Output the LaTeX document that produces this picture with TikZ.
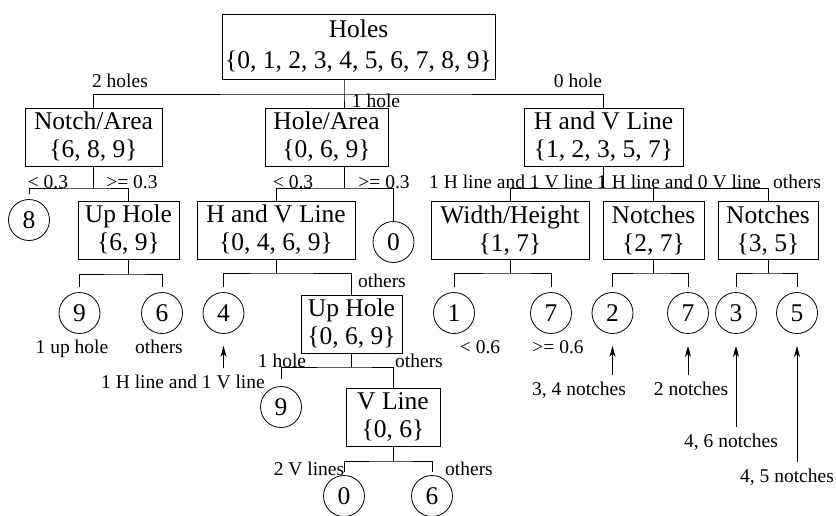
\documentclass[tikz,border=0pt]{standalone}
\usepackage{fontspec}
\setmainfont{Liberation Serif}
\usetikzlibrary{arrows.meta}

\begin{document}
\begin{tikzpicture}[x=1pt,y=-1pt,>={Stealth[length=11pt,width=6pt,inset=3pt]},line width=0.8pt,
  attr/.style={draw,rectangle,align=center,font=\fontsize{25.5}{28}\selectfont,inner xsep=1pt,inner ysep=2pt,minimum height=58pt,minimum width=#1},
  leaf/.style={draw,circle,minimum size=41pt,inner sep=0pt,font=\fontsize{25.5}{28}\selectfont},
  lab/.style={font=\fontsize{19.5}{22}\selectfont,inner sep=1pt,anchor=base},
  pointer/.style={->,shorten <=5pt,shorten >=12pt}
]
  \useasboundingbox (0,0) rectangle (836,515);

  % decision boxes
  \node[attr=273pt,minimum height=65pt,inner xsep=0pt] (root) at (358.5,46.5)
    {Holes\\[3pt]\{0, 1, 2, 3, 4, 5, 6, 7, 8, 9\}};
  \node[attr=137pt] (notch) at (93.5,137) {Notch/Area\\\{6, 8, 9\}};
  \node[attr=123pt] (hole) at (326.5,137) {Hole/Area\\\{0, 6, 9\}};
  \node[attr=159pt] (hv) at (603.5,137) {H and V Line\\\{1, 2, 3, 5, 7\}};
  \node[attr=101pt] (uph1) at (128.5,230) {Up Hole\\\{6, 9\}};
  \node[attr=158pt] (hv2) at (276,230) {H and V Line\\\{0, 4, 6, 9\}};
  \node[attr=158pt] (wh) at (510,230.5) {Width/Height\\\{1, 7\}};
  \node[attr=101pt] (n27) at (653.5,230.5) {Notches\\\{2, 7\}};
  \node[attr=100pt] (n35) at (768,230.5) {Notches\\\{3, 5\}};
  \node[attr=101pt] (uph2) at (351.5,324) {Up Hole\\\{0, 6, 9\}};
  \node[attr=94pt] (vline) at (393,417) {V Line\\\{0, 6\}};

  % leaves
  \foreach \n/\x/\y/\d in {c8/29/220/8,c0a/393.5/242/0,c9a/79.5/313/9,c6a/162/313/6,
      c4/223.5/313/4,c1/454/313/1,c7a/551/313/7,c2/612.5/313/2,c7b/688/313/7,
      c3/736/313/3,c5/797/313/5,c9b/281/407/9,c0b/344/496/0,c6b/432/496/6}
    \node[leaf] (\n) at (\x,\y) {\d};

  % junctions
  \coordinate (j0) at (344,94);
  \coordinate (jn) at (93.5,188);
  \coordinate (jh) at (344,188);
  \coordinate (jv) at (603.5,188);
  \coordinate (ju1) at (128.5,274);
  \coordinate (jhv2) at (276,273);
  \coordinate (jwh) at (510,273);
  \coordinate (jn27) at (653.5,273);
  \coordinate (jn35) at (768,273);
  \coordinate (ju2) at (351.5,367);
  \coordinate (jvl) at (393,461);

  \draw (root.south -| j0) -- (j0) -- (j0 |- hole.north);
  \draw (notch.north) |- (j0) -| (hv.north);
  \draw (notch.south) -- (jn);
  \draw[shorten <=5pt] (c8.north) |- (jn) -| (uph1.north);
  \draw (hole.south -| jh) -- (jh);
  \draw (hv2.north) |- (jh) -| (c0a.north);
  \draw (hv.south) -- (jv);
  \draw (wh.north) |- (jv) -| (n35.north);
  \draw (jv -| n27.north) -- (n27.north);
  \draw (uph1.south) -- (ju1);
  \draw[shorten <=5pt,shorten >=5pt] (c9a.north) |- (ju1) -| (c6a.north);
  \draw (hv2.south) -- (jhv2);
  \draw[shorten <=5pt] (c4.north) |- (jhv2) -| (uph2.north);
  \draw (wh.south) -- (jwh);
  \draw[shorten <=5pt,shorten >=5pt] (c1.north) |- (jwh) -| (c7a.north);
  \draw (n27.south) -- (jn27);
  \draw[shorten <=5pt,shorten >=5pt] (c2.north) |- (jn27) -| (c7b.north);
  \draw (n35.south) -- (jn35);
  \draw[shorten <=5pt,shorten >=5pt] (c3.north) |- (jn35) -| (c5.north);
  \draw (uph2.south) -- (ju2);
  \draw[shorten <=7pt] (c9b.north) |- (ju2) -| (vline.north);
  \draw (vline.south) -- (jvl);
  \draw[shorten <=3pt,shorten >=3pt] (c0b.north) |- (jvl) -| (c6b.north);

  % branch labels
  \node[lab] at (120,87) {2 holes};
  \node[lab] at (376,107) {1 hole};
  \node[lab] at (578,87) {0 hole};
  \node[lab] at (48,188) {< 0.3};
  \node[lab] at (132,188) {>= 0.3};
  \node[lab] at (293,188) {< 0.3};
  \node[lab] at (384,188) {>= 0.3};
  \node[lab] at (511,188) {1 H line and 1 V line};
  \node[lab] at (679,188) {1 H line and 0 V line};
  \node[lab] at (797,188) {others};
  \node[lab] at (382,287) {others};
  \node[lab] at (72,353) {1 up hole};
  \node[lab] at (159,353) {others};
  \node[lab] at (282,367) {1 hole};
  \node[lab] at (419,367) {others};
  \node[lab] at (309,475) {2 V lines};
  \node[lab] at (469,475) {others};
  \node[lab] at (480,353) {< 0.6};
  \node[lab] at (558,353) {>= 0.6};

  % notes with arrows
  \node[lab] (l1hv) at (183,388) {1 H line and 1 V line};
  \node[lab] (l34) at (579,395) {3, 4 notches};
  \node[lab] (l2n) at (691,395) {2 notches};
  \node[lab] (l46) at (731,447) {4, 6 notches};
  \node[lab] (l45) at (787,482) {4, 5 notches};
  \draw[pointer] (c4.south |- l1hv.north) -- (c4.south);
  \draw[pointer] (c2.south |- l34.north) -- (c2.south);
  \draw[pointer] (c7b.south |- l2n.north) -- (c7b.south);
  \draw[pointer] (c3.south |- l46.north) -- (c3.south);
  \draw[pointer] (c5.south |- l45.north) -- (c5.south);
\end{tikzpicture}
\end{document}
